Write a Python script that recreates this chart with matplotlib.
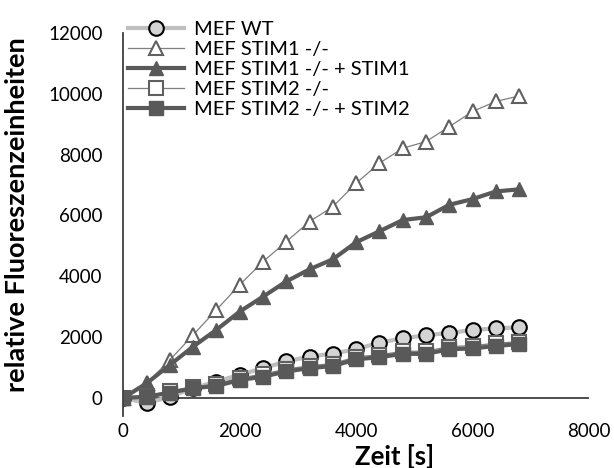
import matplotlib
matplotlib.use("Agg")
import matplotlib.pyplot as plt

plt.rcParams['font.family'] = ['Lato', 'DejaVu Sans']

# Messzeitpunkte [s]
zeit = [0, 400, 800, 1200, 1600, 2000, 2400, 2800, 3200, 3600,
        4000, 4400, 4800, 5200, 5600, 6000, 6400, 6800]

wt = [0, -170, 40, 320, 540, 760, 980, 1200, 1360, 1460,
      1600, 1820, 1960, 2060, 2140, 2230, 2290, 2320]
stim1_ko = [0, 480, 1250, 2070, 2900, 3720, 4480, 5140, 5800, 6290,
            7060, 7720, 8210, 8430, 8920, 9420, 9750, 9930]
stim1_rescue = [0, 480, 1085, 1690, 2240, 2840, 3330, 3830, 4230, 4560,
                5120, 5480, 5850, 5940, 6350, 6540, 6790, 6860]
stim2_ko = [0, 60, 220, 370, 450, 660, 780, 950, 1060, 1130,
            1350, 1420, 1530, 1540, 1690, 1720, 1800, 1850]
stim2_rescue = [0, 40, 175, 320, 395, 590, 700, 870, 980, 1050,
                1270, 1340, 1450, 1450, 1600, 1630, 1710, 1770]

labels = ["MEF WT", "MEF STIM1 -/-", "MEF STIM1 -/- + STIM1",
          "MEF STIM2 -/-", "MEF STIM2 -/- + STIM2"]

dark = "#595959"
fig = plt.figure(figsize=(6.14, 4.68), dpi=100)
ax = fig.add_axes([0.2008, 0.1107, 0.7585, 0.8188])

ms = 10.5
ax.plot(zeit, wt, color="#bfbfbf", lw=3, marker="o", ms=ms,
        mfc="#d4d4d4", mec="black", mew=1.5, label=labels[0])
ax.plot(zeit, stim1_ko, color="#7f7f7f", lw=0.9, marker="^", ms=ms,
        mfc="white", mec="#606060", mew=1.5, label=labels[1])
ax.plot(zeit, stim1_rescue, color=dark, lw=3, marker="^", ms=ms,
        mfc=dark, mec=dark, label=labels[2])
ax.plot(zeit, stim2_ko, color="#7f7f7f", lw=0.9, marker="s", ms=ms,
        mfc="white", mec="#606060", mew=1.5, label=labels[3])
ax.plot(zeit, stim2_rescue, color=dark, lw=3, marker="s", ms=ms,
        mfc=dark, mec=dark, label=labels[4])

ax.set_xlim(0, 8000)
ax.set_ylim(-600, 12000)
ax.set_xticks(range(0, 8001, 2000))
ax.set_yticks(range(0, 12001, 2000))
ax.tick_params(length=0, labelsize=13.5, colors="black")
ax.tick_params(axis="y", pad=15)
ax.tick_params(axis="x", pad=5)

for s in ["top", "right", "bottom"]:
    ax.spines[s].set_visible(False)
ax.spines["left"].set_color("#404040")
ax.spines["left"].set_linewidth(1.3)
ax.axhline(0, color="#404040", lw=1.3, zorder=1)

ax.set_xlabel("Zeit [s]", fontsize=18.5, fontweight="bold")
ax.set_ylabel("relative Fluoreszenzeinheiten", fontsize=19.5, fontweight="bold")
ax.xaxis.set_label_coords(0.583, -0.072)
ax.yaxis.set_label_coords(-0.203, 0.525)

fig.legend(loc="upper left", bbox_to_anchor=(0.2085, 0.956), frameon=False,
           fontsize=14.5, borderpad=0, borderaxespad=0, labelspacing=0.15,
           handlelength=2.8, handletextpad=0.5)

fig.savefig("out.png", dpi=100)
